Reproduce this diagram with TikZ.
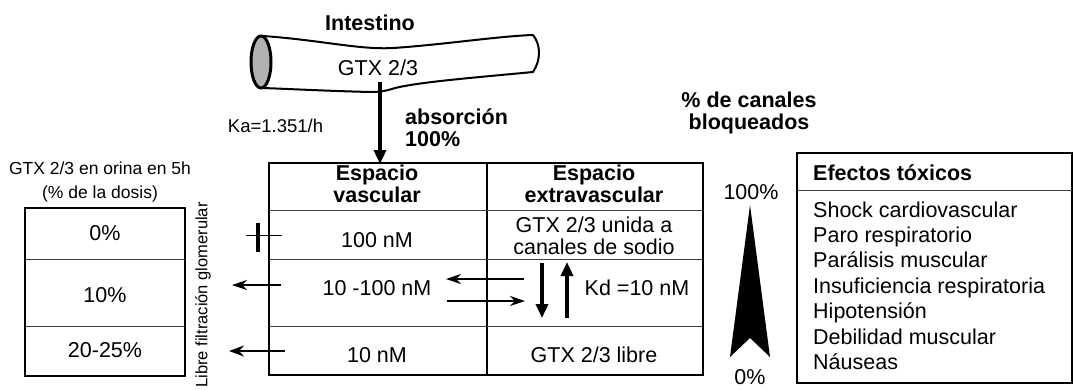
\documentclass[tikz,border=0pt]{standalone}
\usepackage{fontspec}
\setmainfont{Liberation Sans}
\usetikzlibrary{arrows.meta}
\begin{document}
\begin{tikzpicture}[x=1pt,y=-1pt,
  txt/.style={inner sep=0pt, anchor=base, font=\fontsize{21.5}{24}\selectfont},
  btxt/.style={inner sep=0pt, anchor=base, font=\fontsize{21.5}{24}\selectfont\bfseries},
  smalltxt/.style={inner sep=0pt, anchor=base, font=\fontsize{17.5}{24}\selectfont},
  frame/.style={line width=1.8pt},
  rulel/.style={line width=1pt, black!75},
  thinarr/.style={line width=1.4pt, -{Stealth[length=15pt,width=10pt,inset=5pt]}},
  thickarr/.style={line width=3.4pt, -{Triangle[length=14pt,width=12pt]}},
  blk/.style={line width=4pt}
]
\useasboundingbox (0,0) rectangle (1076,389);

% ---------- Intestine tube ----------
\draw[line width=2pt, line join=round]
  (263,36) .. controls (320,40) and (360,50) .. (393,48)
  .. controls (440,45) and (500,36) .. (533,35)
  .. controls (541,45) and (541,60) .. (533,72)
  .. controls (470,78) and (420,82) .. (395,88)
  .. controls (386,91) and (380,92) .. (370,92)
  .. controls (330,91) and (290,89) .. (263,88);
\draw[line width=3pt, fill=black!30] (261,62) ellipse [x radius=10, y radius=26];

\node[btxt] (intestino) at (370,30) {Intestino};
\node[txt] (gtxint) at (378,75) {GTX 2/3};
\node[inner sep=0pt, anchor=base, font=\fontsize{18.5}{22}\selectfont] (ka) at (275.5,132.5) {Ka=1.351/h};
\node[btxt, anchor=base west] (abs1) at (405,124.5) {absorción};
\node[btxt, anchor=base west] (abs2) at (405,146) {100\%};

\coordinate (absStart) at (380,82);
\coordinate (absEnd) at (380,164);
\draw[thickarr] (absStart) -- (absEnd);

% ---------- Left urine box ----------
\node[smalltxt] (orina1) at (100,174) {GTX 2/3 en orina en 5h};
\node[smalltxt] (orina2) at (100,198) {(\% de la dosis)};
\draw[frame] (25,208) rectangle (185,376);
\draw[rulel] (25,259) -- (185,259);
\draw[rulel] (25,326) -- (185,326);
\node[txt] (p0) at (105,240) {0\%};
\node[txt] (p10) at (105,302) {10\%};
\node[txt] (p20) at (105,357) {20-25\%};
\node[inner sep=0pt, font=\fontsize{16.5}{20}\selectfont, rotate=90] (libre) at (203,295) {Libre filtración glomerular};

% ---------- Main table ----------
\draw[frame] (269,163) rectangle (703,375);
\draw[frame] (487,163) -- (487,375);
\draw[rulel] (269,210) -- (703,210);
\draw[rulel] (269,259) -- (703,259);
\draw[rulel] (269,326) -- (703,326);

\node[btxt] (hv1) at (377,180.5) {Espacio};
\node[btxt] (hv2) at (377,202.5) {vascular};
\node[btxt] (he1) at (594,180.5) {Espacio};
\node[btxt] (he2) at (594,202.5) {extravascular};
\node[txt] (c100) at (377,247) {100 nM};
\node[txt] (c10100) at (377,295) {10 -100 nM};
\node[txt] (c10) at (377,362) {10 nM};
\node[txt] (unida1) at (594,232.5) {GTX 2/3 unida a};
\node[txt] (unida2) at (594,254.5) {canales de sodio};
\node[txt] (kd) at (637,295) {Kd =10 nM};
\node[txt] (libreg) at (594,362) {GTX 2/3 libre};

% blocked filtration mark (row 1)
\coordinate (b1a) at (246,235);
\coordinate (b1b) at (282,235);
\coordinate (b1c) at (258,223);
\coordinate (b1d) at (258,252);
\draw[line width=1pt] (b1a) -- (b1b);
\draw[blk] (b1c) -- (b1d);

% filtration arrows
\coordinate (f2s) at (281,285);
\coordinate (f2e) at (232,285);
\draw[thinarr] (f2s) -- (f2e);
\coordinate (f3s) at (285,351);
\coordinate (f3e) at (229,351);
\draw[line width=2.8pt, -{Stealth[length=15pt,width=11pt,inset=5pt]}] (f3s) -- (f3e);

% exchange arrows
\coordinate (x1s) at (524,279);
\coordinate (x1e) at (446,279);
\draw[thinarr] (x1s) -- (x1e);
\coordinate (x2s) at (447,301);
\coordinate (x2e) at (525,301);
\draw[thinarr] (x2s) -- (x2e);

\coordinate (d1s) at (542,263);
\coordinate (d1e) at (542,318);
\draw[thickarr] (d1s) -- (d1e);
\coordinate (u1s) at (567,318);
\coordinate (u1e) at (567,262);
\draw[thickarr] (u1s) -- (u1e);

% ---------- Blocked channels scale ----------
\node[btxt] (canales1) at (749,107.5) {\% de canales};
\node[btxt] (canales2) at (749,129.5) {bloqueados};
\node[txt] (p100) at (751,199.5) {100\%};
\node[txt] (p0b) at (750,384.5) {0\%};
\fill (750,205) -- (770,357) -- (750,338) -- (730,357) -- cycle;

% ---------- Toxic effects box ----------
\draw[frame] (797,153) rectangle (1072,383);
\draw[rulel] (797,190) -- (1072,190);
\node[btxt, anchor=base west] (eft) at (813,180.5) {Efectos tóxicos};
\foreach \t [count=\i] in {Shock cardiovascular, Paro respiratorio, Parálisis muscular, Insuficiencia respiratoria, Hipotensión, Debilidad muscular, Náuseas}
  \node[txt, anchor=base west] (e\i) at (813,{217+25.4*(\i-1)}) {\t};
\end{tikzpicture}
\end{document}
